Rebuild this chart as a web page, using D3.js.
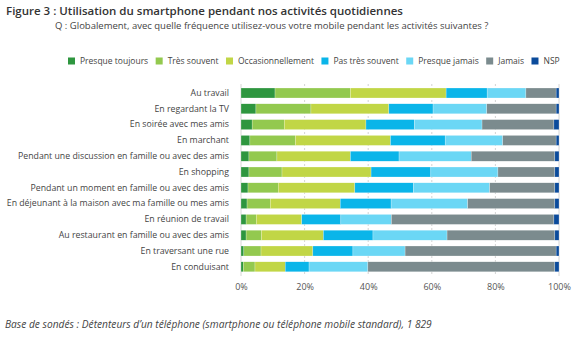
<!DOCTYPE html>
<html>
<head>
<meta charset="utf-8">
<script src="https://cdn.jsdelivr.net/npm/d3@7"></script>
<style>
  body { margin: 0; background: #fff; }
  svg text { font-family: "Open Sans", sans-serif; }
</style>
</head>
<body>
<div id="chart"></div>
<script>
// activities, top to bottom
const activites = [
    "Au travail",
    "En regardant la TV",
    "En soirée avec mes amis",
    "En marchant",
    "Pendant une discussion en famille ou avec des amis",
    "En shopping",
    "Pendant un moment en famille ou avec des amis",
    "En déjeunant à la maison avec ma famille ou mes amis",
    "En réunion de travail",
    "Au restaurant en famille ou avec des amis",
    "En traversant une rue",
    "En conduisant"
];

// share of answers (%) per activity, one array per answer
const presqueToujours   = [10.7, 4.7, 3.5, 2.8, 2.5, 2.5, 2.2, 1.9, 1.6, 1.6, 0.9, 0.7];
const tresSouvent       = [23.7, 17.3, 10.1, 14.3, 8.8, 10.4, 9.5, 7.3, 3.2, 4.8, 5.4, 3.7];
const occasionnellement = [30.1, 24.5, 25.7, 29.9, 23.1, 28.0, 24.1, 22.0, 14.3, 19.5, 16.3, 9.5];
const pasTresSouvent    = [12.9, 13.9, 15.2, 17.2, 15.3, 18.8, 18.4, 16.0, 12.3, 15.6, 12.6, 7.5];
const presqueJamais     = [12.2, 16.9, 21.3, 18.1, 22.7, 21.1, 24.0, 24.1, 15.9, 23.3, 16.4, 18.5];
const jamais            = [9.5, 21.8, 22.6, 16.8, 26.3, 17.9, 20.5, 27.4, 51.1, 33.9, 47.5, 58.8];
const nsp               = [0.9, 0.9, 1.6, 0.9, 1.3, 1.3, 1.3, 1.3, 1.6, 1.3, 0.9, 1.3];

const reponses = ["Presque toujours", "Très souvent", "Occasionnellement", "Pas très souvent", "Presque jamais", "Jamais", "NSP"];
const series = [presqueToujours, tresSouvent, occasionnellement, pasTresSouvent, presqueJamais, jamais, nsp];
const couleurs = ["#2e963f", "#93c94f", "#c1d646", "#0ab5e9", "#6bd7f5", "#7b8b8e", "#0b4b9b"];
const ticks = [0, 20, 40, 60, 80, 100];

const width = 577, height = 341;

let svg = d3.select("#chart").append("svg")
    .attr("width", width)
    .attr("height", height);

// titles
svg.append("text")
    .attr("x", 6).attr("y", 15)
    .attr("font-size", 11.5).attr("font-weight", 600).attr("fill", "#333")
    .text("Figure 3 : Utilisation du smartphone pendant nos activités quotidiennes");
svg.append("text")
    .attr("x", 55).attr("y", 29)
    .attr("font-size", 9.5).attr("fill", "#444")
    .text("Q : Globalement, avec quelle fréquence utilisez-vous votre mobile pendant les activités suivantes ?");

// build rows for the stack
let rows = activites.map((a, i) => {
    let r = {activite: a};
    reponses.forEach((k, j) => r[k] = series[j][i]);
    return r;
});
let stacked = d3.stack().keys(reponses)(rows);

let x = d3.scaleLinear().domain([0, 100]).range([241, 559]);
let y = d3.scaleBand().domain(activites).range([85.1, 274.7]).paddingInner(0.367).paddingOuter(0.1835);
let color = d3.scaleOrdinal().domain(reponses).range(couleurs);

// gridlines
let grid = svg.append("g");
grid.selectAll("line")
    .data(ticks)
    .enter().append("line")
    .attr("x1", d => x(d)).attr("x2", d => x(d))
    .attr("y1", 84).attr("y2", 276)
    .attr("stroke", d => (d == 0 || d == 100) ? "#d6d6d6" : "#c8c8c8")
    .attr("stroke-width", d => (d == 0 || d == 100) ? 1 : 0.8)
    .attr("stroke-dasharray", d => (d == 0 || d == 100) ? null : "2,2");

// bars
svg.append("g").selectAll("g")
    .data(stacked)
    .enter().append("g")
    .attr("fill", d => color(d.key))
    .selectAll("rect")
    .data(d => d)
    .enter().append("rect")
    .attr("x", d => x(d[0]))
    .attr("width", d => x(d[1]) - x(d[0]))
    .attr("y", d => y(d.data.activite))
    .attr("height", y.bandwidth())
    .attr("stroke", "#fff")
    .attr("stroke-width", 0.4)
    .attr("stroke-opacity", 0.6);

// category labels
svg.append("g")
    .attr("transform", "translate(229,0)")
    .call(d3.axisLeft(y).tickSize(0).tickPadding(0))
    .call(g => g.select(".domain").remove())
    .selectAll("text")
    .attr("font-family", "Open Sans, sans-serif")
    .attr("font-size", 8.75)
    .attr("fill", "#444");

// x axis
svg.append("g")
    .attr("transform", "translate(0,276)")
    .call(d3.axisBottom(x).tickValues(ticks).tickFormat(d => d + "%").tickSize(0).tickPadding(8))
    .call(g => g.select(".domain").remove())
    .selectAll("text")
    .attr("font-family", "Open Sans, sans-serif")
    .attr("font-size", 9)
    .attr("fill", "#555");

// legend
let legend = svg.append("g").attr("transform", "translate(68,61)");
let lx = 0;
reponses.forEach((k, i) => {
    let item = legend.append("g").attr("transform", "translate(" + lx + ",0)");
    item.append("rect")
        .attr("x", 0).attr("y", -3.5)
        .attr("width", 7).attr("height", 7)
        .attr("fill", couleurs[i]);
    let t = item.append("text")
        .attr("x", 12).attr("y", 3.2)
        .attr("font-size", 8.5).attr("fill", "#444")
        .text(k);
    lx += 12 + t.node().getComputedTextLength() + 7.5;
});

// footnote
svg.append("text")
    .attr("x", 5).attr("y", 328)
    .attr("font-size", 10.2).attr("font-style", "italic").attr("fill", "#444")
    .text("Base de sondés : Détenteurs d\u2019un téléphone (smartphone ou téléphone mobile standard), 1 829");
</script>
</body>
</html>
